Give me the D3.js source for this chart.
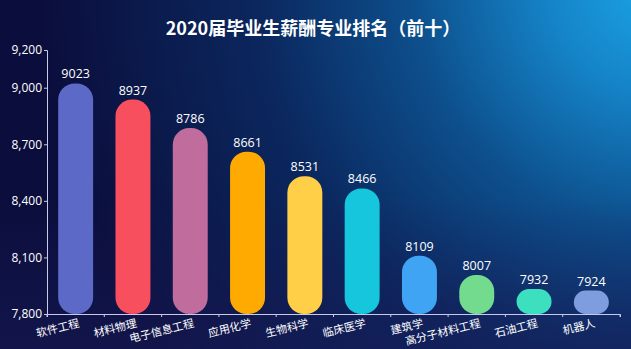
<!DOCTYPE html>
<html><head><meta charset="utf-8">
<script src="https://cdn.jsdelivr.net/npm/d3@7"></script>
<style>html,body{margin:0;padding:0;background:#0b0e3c;}svg{display:block;}</style>
</head><body>
<script>
const categories = ["软件工程","材料物理","电子信息工程","应用化学","生物科学","临床医学","建筑学","高分子材料工程","石油工程","机器人"];
const values = [9023,8937,8786,8661,8531,8466,8109,8007,7932,7924];
const colors = ["#5c69c6","#f84f5f","#c06c9c","#ffaa00","#ffcf48","#16c6dc","#40a4f4","#72db8e","#3ce0bf","#7e9ddf"];
const yTicks = [7800,8100,8400,8700,9000,9200];
const title = "2020届毕业生薪酬专业排名（前十）";

(function(){
const W = 631, H = 349;
const svg = d3.select("body").append("svg").attr("width", W).attr("height", H);
const defs = svg.append("defs");
const rg = defs.append("radialGradient").attr("id","bg").attr("gradientUnits","userSpaceOnUse")
  .attr("cx", 660).attr("cy", -20).attr("r", 620);
[[0,"#1ba6e8"],[0.18,"#1584c8"],[0.4,"#0d4f8c"],[0.65,"#0b275e"],[1,"#0b0e3c"]].forEach(s=>rg.append("stop").attr("offset",s[0]).attr("stop-color",s[1]));
svg.append("rect").attr("width",W).attr("height",H).attr("fill","url(#bg)");
const lg = defs.append("linearGradient").attr("id","bot").attr("x1",0).attr("y1",0).attr("x2",0).attr("y2",1);
lg.append("stop").attr("offset",0).attr("stop-color","#1a1c5a").attr("stop-opacity",0);
lg.append("stop").attr("offset",1).attr("stop-color","#1a1c5a").attr("stop-opacity",0.5);
svg.append("rect").attr("y",200).attr("width",W).attr("height",H-200).attr("fill","url(#bot)");

const mLeft = 47, mRight = 620, mTop = 50, mBottom = 314;
const x = d3.scaleBand().domain(categories).range([mLeft, mRight]).paddingInner(0).paddingOuter(0);
const y = d3.scaleLinear().domain([7800, 9200]).range([mBottom, mTop]);

svg.append("text").attr("x", 313).attr("y", 35).attr("text-anchor","middle")
  .attr("fill","#fff").attr("font-family","'Noto Sans CJK SC', sans-serif").attr("font-weight","bold")
  .attr("font-size", 18).text(title);

const bw = x.bandwidth()*0.61;
const g = svg.append("g");
categories.forEach((c,i)=>{
  const cx = x(c) + x.bandwidth()/2;
  const yt = y(values[i]);
  const h = mBottom - yt;
  const r = Math.min(bw/2 - 1, h/2);
  g.append("rect").attr("x", cx - bw/2).attr("y", yt).attr("width", bw).attr("height", h)
    .attr("rx", r).attr("ry", r).attr("fill", colors[i]);
  g.append("text").attr("x", cx).attr("y", yt - 5).attr("text-anchor","middle")
    .attr("fill","#fff").attr("font-family","'Open Sans', sans-serif").attr("font-size", 12.5).text(values[i]);
});

const yAxis = d3.axisLeft(y).tickValues(yTicks).tickFormat(d3.format(",")).tickSize(3).tickPadding(2);
const ya = svg.append("g").attr("transform",`translate(${mLeft},0)`).call(yAxis);
ya.selectAll("path,line").attr("stroke","#c9c9ea");
ya.selectAll("text").attr("fill","#fff").attr("font-family","'Open Sans', sans-serif").attr("font-size",12);

const xAxis = d3.axisBottom(x).tickSize(3).tickSizeOuter(3).tickFormat("");
const xa = svg.append("g").attr("transform",`translate(0,${mBottom})`).call(xAxis);
xa.selectAll("path,line").attr("stroke","#c9c9ea");
xa.selectAll(".tick line").attr("transform",`translate(${-x.bandwidth()/2},0)`);
svg.append("line").attr("x1",mRight).attr("x2",mRight).attr("y1",mBottom).attr("y2",mBottom+3).attr("stroke","#c9c9ea");

categories.forEach(c=>{
  const cx = x(c) + x.bandwidth()/2;
  svg.append("text").attr("transform",`translate(${cx+2},${mBottom+3}) rotate(-14)`)
    .attr("text-anchor","end").attr("dy","0.9em")
    .attr("fill","#fff").attr("font-family","'Noto Sans CJK SC', sans-serif").attr("font-size",11).text(c);
});
})();
</script>
</body></html>
